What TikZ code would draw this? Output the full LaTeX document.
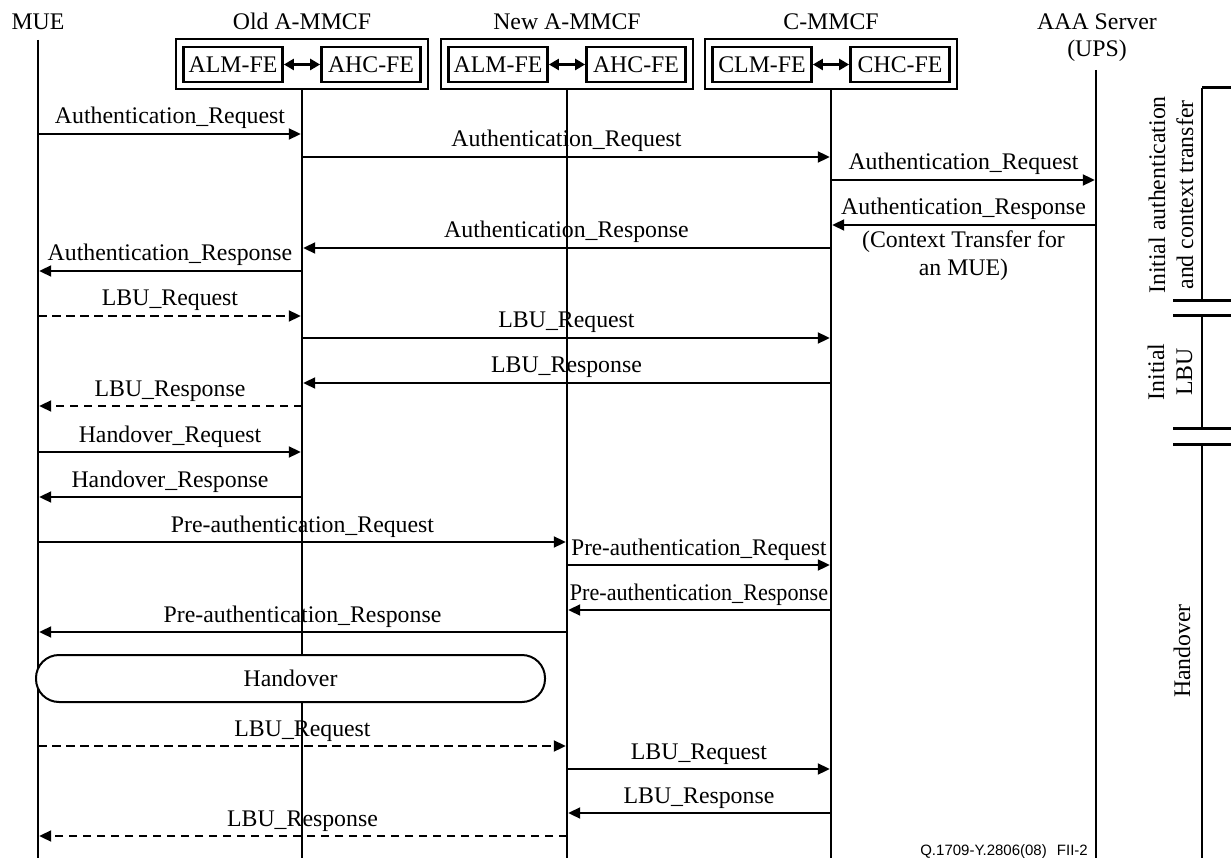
\documentclass[tikz,border=0pt]{standalone}
\usepackage{graphicx}
\usepackage{fontspec}
\setmainfont{Liberation Serif}
\newfontfamily\footfont{Liberation Sans}
\usetikzlibrary{arrows.meta}

\begin{document}
\begin{tikzpicture}[x=1pt,y=-1pt,
  every node/.style={font=\fontsize{23.8}{28}\selectfont, inner sep=0pt},
  lifeline/.style={line width=2.8pt},
  msg/.style={line width=2pt, -{Triangle[length=12pt,width=11pt]}, shorten >=1.2pt},
  async/.style={msg, dash pattern=on 8.5pt off 5.5pt},
  lbl/.style={pos=0.5, anchor=base, yshift=10pt},
  title/.style={anchor=base},
  outerbox/.style={draw, line width=2.8pt, minimum width=252pt, minimum height=50pt},
  febox/.style={draw, line width=2.8pt, minimum width=99pt, minimum height=35pt, text depth=0pt},
  link/.style={line width=2.5pt, {Triangle[length=10pt,width=11pt]}-{Triangle[length=10pt,width=11pt]}},
  phase/.style={fill=white, draw, line width=2pt, rounded corners=23pt},
  brkt/.style={line width=3pt},
  brktv/.style={line width=2.4pt},
  phaselabel/.style={rotate=90, align=center}
]
\useasboundingbox (0,0) rectangle (1231,858);

% ---------- column titles ----------
\node[title] (tMue) at (38,30) {MUE};
\node[title] (tOld) at (302,30) {Old A-MMCF};
\node[title] (tNew) at (567,30) {New A-MMCF};
\node[title] (tC)   at (831,30) {C-MMCF};
\node[title] (tAaa) at (1097,30) {AAA Server};
\node[title] (tUps) at (1097,57) {(UPS)};

% ---------- functional entity groups ----------
\foreach \id/\cx/\la/\ra in {old/302/ALM-FE/AHC-FE, new/567/ALM-FE/AHC-FE, c/831/CLM-FE/CHC-FE} {
  \node[outerbox] (\id Box) at (\cx,64) {};
  \node[febox] (\id L) at (\cx-69,64.5) {\la};
  \node[febox] (\id R) at (\cx+69,64.5) {\ra};
  \draw[link] (\id L.east) -- (\id R.west);
}

% ---------- lifeline anchors ----------
\coordinate (mueL) at (38,40);
\coordinate (aaaL) at (1096,70);
\coordinate (bottom) at (0,858);

% ---------- message rows ----------
\foreach \n/\y in {1/134,2/157,3/180,4/225,5/248,6/271,7/316,8/338,9/383,10/406,
                   11/452,12/497,13/542,14/565,15/610,16/632,17/746,18/769,19/813,20/836}
  \coordinate (r\n) at (0,\y);

% initial authentication and context transfer
\draw[msg] (mueL |- r1) -- (oldBox.south |- r1) node[lbl] {Authentication\_Request};
\draw[msg] (oldBox.south |- r2) -- (cBox.south |- r2) node[lbl] {Authentication\_Request};
\draw[msg] (cBox.south |- r3) -- (aaaL |- r3) node[lbl] {Authentication\_Request};
\draw[msg] (aaaL |- r4) -- (cBox.south |- r4) node[lbl] {Authentication\_Response};
\node[align=center] (ctx) at (963.5,256) {(Context Transfer for\\an MUE)};
\draw[msg] (cBox.south |- r5) -- (oldBox.south |- r5) node[lbl] {Authentication\_Response};
\draw[msg] (oldBox.south |- r6) -- (mueL |- r6) node[lbl] {Authentication\_Response};

% initial location binding update
\draw[async] (mueL |- r7) -- (oldBox.south |- r7) node[lbl] {LBU\_Request};
\draw[msg] (oldBox.south |- r8) -- (cBox.south |- r8) node[lbl] {LBU\_Request};
\draw[msg] (cBox.south |- r9) -- (oldBox.south |- r9) node[lbl] {LBU\_Response};
\draw[async] (oldBox.south |- r10) -- (mueL |- r10) node[lbl] {LBU\_Response};

% handover preparation
\draw[msg] (mueL |- r11) -- (oldBox.south |- r11) node[lbl] {Handover\_Request};
\draw[msg] (oldBox.south |- r12) -- (mueL |- r12) node[lbl] {Handover\_Response};
\draw[msg] (mueL |- r13) -- (newBox.south |- r13) node[lbl] {Pre-authentication\_Request};
\draw[msg] (newBox.south |- r14) -- (cBox.south |- r14) node[lbl] {\scalebox{0.97}[1]{Pre-authentication\_Request}};
\draw[msg] (cBox.south |- r15) -- (newBox.south |- r15) node[lbl] {\scalebox{0.93}[1]{Pre-authentication\_Response}};
\draw[msg] (newBox.south |- r16) -- (mueL |- r16) node[lbl] {Pre-authentication\_Response};

% location binding update after handover
\draw[async] (mueL |- r17) -- (newBox.south |- r17) node[lbl] {LBU\_Request};
\draw[msg] (newBox.south |- r18) -- (cBox.south |- r18) node[lbl] {LBU\_Request};
\draw[msg] (cBox.south |- r19) -- (newBox.south |- r19) node[lbl] {LBU\_Response};
\draw[async] (newBox.south |- r20) -- (mueL |- r20) node[lbl] {LBU\_Response};

% ---------- lifelines ----------
\draw[lifeline] (mueL) -- (mueL |- bottom);
\draw[lifeline] (oldBox.south) -- (oldBox.south |- bottom);
\draw[lifeline] (newBox.south) -- (newBox.south |- bottom);
\draw[lifeline] (cBox.south) -- (cBox.south |- bottom);
\draw[lifeline] (aaaL) -- (aaaL |- bottom);

% ---------- handover phase ----------
\node[phase, minimum width=509pt, minimum height=47pt] (ho) at (290.5,678.5) {Handover};

% ---------- phase brackets ----------
\coordinate (b1t) at (1202,88);
\coordinate (b1b) at (1202,301);
\coordinate (b2t) at (1202,316);
\coordinate (b2b) at (1202,428);
\coordinate (b3t) at (1202,444);
\coordinate (b3b) at (1202,858);
\coordinate (edge) at (1231,0);
\coordinate (tick) at (1173,0);

\draw[brkt] (b1t) -- (edge |- b1t);
\draw[brktv] (b1t) -- (b1b);
\draw[brkt] (tick |- b1b) -- (edge |- b1b);
\draw[brkt] (tick |- b2t) -- (edge |- b2t);
\draw[brktv] (b2t) -- (b2b);
\draw[brkt] (tick |- b2b) -- (edge |- b2b);
\draw[brkt] (tick |- b3t) -- (edge |- b3t);
\draw[brktv] (b3t) -- (b3b);

\node[phaselabel] (p1) at (1171,195) {Initial authentication\\and context transfer};
\node[phaselabel] (p2) at (1170,372) {Initial\\LBU};
\node[phaselabel] (p3) at (1182,651) {Handover};

% ---------- figure reference ----------
\node[anchor=base east, font=\footfont\fontsize{15}{18}\selectfont] (ref) at (1088,855) {Q.1709-Y.2806(08)\hspace{6pt} FII-2};
\end{tikzpicture}
\end{document}
